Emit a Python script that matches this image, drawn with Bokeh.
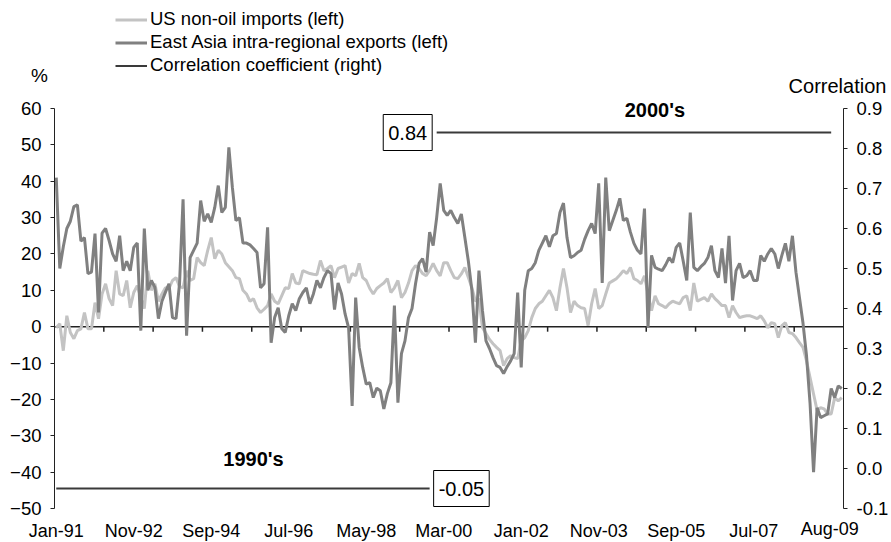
from bokeh.plotting import figure
from bokeh.models import (Range1d, LinearAxis, FixedTicker, Label, Legend,
                          LegendItem, PrintfTickFormatter)
from bokeh.embed import file_html
from bokeh.resources import INLINE

# ---------------- data (monthly, Jan-91 .. Aug-09, % y/y) ----------------
us_nonoil_imports = [
    -0.3, 0.8, -6.6, 3, -1.6, -3.3, -1.1, -0.6, 3.9, -0.6, -0.6, 6.6,          # 1991
    2.2, 9, 11.8, 7.7, 5.8, 15.4, 9, 8.5, 12.7, 5.2, 9.4, 11.3,                # 1992
    8, 5, 15.4, 10, 11.8, 7, 9, 10.7, 10.5, 12.7, 13.5, 11,                    # 1993
    10.7, 15.4, 12.7, 13.2, 19, 17.6, 16.8, 21, 24.5, 18.7, 21, 20,            # 1994
    17.6, 16.5, 15.4, 13.5, 13.2, 10, 9, 7, 7.7, 5.2, 3.9, 4.8,                # 1995
    5.8, 9, 7, 6.3, 8.5, 10.7, 10.5, 14.6, 12, 11.8, 15.4, 15,                 # 1996
    14.6, 14.4, 14.3, 18.2, 15.4, 16, 16.8, 13.5, 16, 16.4, 16.8, 12,          # 1997
    14.6, 14, 17.4, 13.5, 12.7, 10.5, 9, 10.5, 11.3, 12, 13.2, 9.4,            # 1998
    10.7, 12.7, 8, 9.4, 12, 15.4, 16.8, 16, 14.6, 14, 15.5, 17.4,              # 1999
    15.4, 14, 17.6, 17.6, 15.4, 13.5, 13.2, 14.5, 16.3, 13.5, 10.7, 7,         # 2000
    7.7, -0.3, -1.9, -3.5, -4.7, -5.7, -6.6, -10.7, -8.8, -8, -8.5, -8.8,      # 2001
    -3.9, -3, -1.1, 2.5, 5, 6.3, 7, 8.5, 10, 8, 4.4, 10.7,                     # 2002
    16, 10.7, 3.9, 7, 5.8, 5.2, 5, 0.3, 6.3, 10.5, 5, 5.8,                     # 2003
    9, 12, 12.6, 13.2, 14.2, 15.4, 14.6, 16.3, 13.2, 12.7, 11.8, 14,           # 2004
    9, 4.4, 8.5, 6.3, 5.8, 5.2, 6.3, 7, 6.6, 6.3, 8, 8.5,                      # 2005
    4.4, 12, 7, 7.5, 8, 7, 9, 7.7, 6.8, 5.8, 5.8, 2.5,                         # 2006
    5.8, 3.9, 2.5, 2.8, 3, 3, 2.6, 2.2, 3, 1.6, -0.3, 1.1,                     # 2007
    0.8, -3, 0.3, 1.1, -1.6, -1.9, -3, -4.4, -5.7, -9.4, -14, -18.5,           # 2008
    -23, -22.3, -22.6, -24, -24, -19.5, -20.4, -19.5,                          # 2009
]

east_asia_exports = [
    41, 16, 22, 27, 29, 33, 33.5, 23.5, 24.5, 14.6, 15, 25.6,                  # 1991
    3.9, 25.7, 27, 23.7, 20, 18, 25, 15.4, 18, 15.4, 21.8, 23,                 # 1992
    -1.1, 27, 10, 12.7, 10.8, 2.2, 7, 9.5, 11.8, 2.5, 2.2, 11.8,               # 1993
    35, -2.5, 19, 21, 23, 34.7, 29, 31, 28.7, 32.8, 38.8, 31.4,                # 1994
    32.8, 49.3, 38.3, 29.2, 30, 23, 23, 22.5, 21.5, 20.4, 10.7, 11.8,          # 1995
    27.3, -4.4, 2.5, 5.2, -0.5, -1.6, 3, 6.3, 4.4, 7.7, 9.4, 10.7,             # 1996
    6.3, 9, 12.7, 10.7, 13.5, 15.4, 14.6, 4.7, 12, 9, 3.5, -0.3,               # 1997
    -21.8, 8, -5.7, -11.2, -15.8, -15.4, -19.5, -16.9, -17.6, -22.6, -18.4, -15.4,  # 1998
    5.8, -20.9, -7.4, -3.9, 2.5, 5, 11.8, 17.4, 18.7, 15, 26, 22.3,            # 1999
    30, 39.4, 32, 30.6, 32, 30, 28.4, 31, 24.5, 18, 10, -4.4,                  # 2000
    15.4, 4.4, -3.9, -6, -8.5, -10.7, -11.2, -12.9, -11, -9.4, -7.4, 9.4,      # 2001
    -11.2, 10, 15.4, 16, 17.6, 21, 23, 25, 22, 25, 25.6, 31.4,                 # 2002
    34, 24.5, 19, 19.5, 20.4, 21, 24, 26.4, 28.4, 25.6, 39.4, 12,              # 2003
    41, 26.4, 29.2, 32, 35.3, 29.2, 29.8, 26, 22.9, 21, 20, 32.5,              # 2004
    -0.3, 19.6, 16.3, 15.8, 15.4, 17, 19, 17.6, 21.8, 23, 18, 12.7,            # 2005
    31.4, 16.3, 15.4, 16.5, 17.4, 19, 22.3, 15.4, 13.5, 21.5, 12, 25,          # 2006
    7.2, 15.4, 17.4, 13.5, 14, 15.4, 12.7, 12.7, 19.6, 18, 20, 21.5,           # 2007
    20, 16, 19.6, 22.9, 18, 25, 15, 8, 1, -8, -21, -40,                        # 2008
    -22.3, -25, -24.5, -24, -17, -19.5, -16.3, -17,                            # 2009
]

x_tick_labels = ["Jan-91", "Nov-92", "Sep-94", "Jul-96", "May-98", "Mar-00",
                 "Jan-02", "Nov-03", "Sep-05", "Jul-07"]
last_label = "Aug-09"

corr_period_names = ["1990's", "2000's"]
corr_values = [-0.05, 0.84]
corr_period_start = ["Jan-91", "Jan-00"]
corr_period_end = ["Nov-99", "May-09"]

left_ticks = [-50, -40, -30, -20, -10, 0, 10, 20, 30, 40, 50, 60]
right_ticks = [-0.1, 0.0, 0.1, 0.2, 0.3, 0.4, 0.5, 0.6, 0.7, 0.8, 0.9]
zero_line_tick_every = 14   # months between tick marks on the zero line

# ---------------- helpers ----------------
MON = ["Jan", "Feb", "Mar", "Apr", "May", "Jun", "Jul", "Aug", "Sep", "Oct", "Nov", "Dec"]


def month_index(lbl):
    m, y = lbl.split("-")
    yy = int(y)
    year = 2000 + yy if yy < 50 else 1900 + yy
    return (year - 1991) * 12 + MON.index(m)


n = len(us_nonoil_imports)
months = list(range(n))
FONT = "Liberation Sans"
TXT = "#000000"
AX = "#222222"

# canvas and where the axes sit inside it (pixels)
W, H = 891, 542
AX_LEFT, AX_RIGHT = 54, 843      # x pixel of left / right value axis
AX_TOP, AX_BOTTOM = 108, 508     # y pixel of top / bottom of value axes

x0, x1 = -0.5, n - 0.5
ux = (x1 - x0) / (AX_RIGHT - AX_LEFT)
yl0, yl1 = left_ticks[0], left_ticks[-1]
uy = (yl1 - yl0) / (AX_BOTTOM - AX_TOP)
yc0, yc1 = right_ticks[0], right_ticks[-1]
uc = (yc1 - yc0) / (AX_BOTTOM - AX_TOP)

p = figure(width=W, height=H, title=None,
           x_range=Range1d(x0 - AX_LEFT * ux, x1 + (W - AX_RIGHT) * ux),
           y_range=Range1d(yl0 - (H - AX_BOTTOM) * uy, yl1 + AX_TOP * uy),
           output_backend="svg", toolbar_location=None,
           min_border=0, min_border_left=0, min_border_right=0,
           min_border_top=0, min_border_bottom=0)
p.extra_y_ranges = {"corr": Range1d(yc0 - (H - AX_BOTTOM) * uc, yc1 + AX_TOP * uc)}
p.xgrid.visible = False
p.ygrid.visible = False
p.outline_line_color = None
p.background_fill_color = "white"
p.border_fill_color = "white"

# bottom axis: date labels only
xa = p.xaxis[0]
label_pos = [month_index(l) for l in x_tick_labels]
xa.fixed_location = yl0
xa.ticker = FixedTicker(ticks=label_pos)
xa.major_label_overrides = {pos: lbl for pos, lbl in zip(label_pos, x_tick_labels)}
xa.axis_line_color = None
xa.major_tick_line_color = None
xa.minor_tick_line_color = None
xa.major_label_standoff = 6
xa.major_label_text_font = FONT
xa.major_label_text_font_size = "18px"
xa.major_label_text_color = TXT

# last date label sits a little higher and to the left, as in the original
p.add_layout(Label(x=month_index(last_label), y=yl0, text=last_label, text_align="center",
                   text_baseline="middle", x_offset=-12, y_offset=-20,
                   text_font=FONT, text_font_size="18px", text_color=TXT))

# left axis (%)
ya = p.yaxis[0]
ya.fixed_location = x0
ya.bounds = (yl0, yl1)
ya.ticker = FixedTicker(ticks=left_ticks)
ya.axis_line_color = AX
ya.major_tick_line_color = AX
ya.major_tick_out = 4
ya.major_tick_in = 0
ya.minor_tick_line_color = None
ya.major_label_standoff = 9
ya.major_label_text_font = FONT
ya.major_label_text_font_size = "18.5px"
ya.major_label_text_color = TXT

# right axis (correlation)
ra = LinearAxis(y_range_name="corr", ticker=FixedTicker(ticks=right_ticks),
                formatter=PrintfTickFormatter(format="%.1f"),
                fixed_location=x1, bounds=(yc0, yc1))
ra.axis_line_color = AX
ra.major_tick_line_color = AX
ra.major_tick_out = 4
ra.major_tick_in = 0
ra.minor_tick_line_color = None
ra.major_label_standoff = 9
ra.major_label_text_font = FONT
ra.major_label_text_font_size = "18.5px"
ra.major_label_text_color = TXT
p.add_layout(ra, "right")

# zero line with its tick marks (5 px long, pointing down)
p.segment(x0=[x0], x1=[x1], y0=[0], y1=[0], line_color=AX, line_width=1.5)
tick_x = [x0 + zero_line_tick_every * k for k in range(1, n // zero_line_tick_every + 1)
          if x0 + zero_line_tick_every * k < x1]
p.segment(x0=tick_x, x1=tick_x, y0=[0] * len(tick_x), y1=[-5 * uy] * len(tick_x),
          line_color=AX, line_width=1.5)

# series
r_us = p.line(months, us_nonoil_imports, line_color="#c3c3c3", line_width=3)
r_ea = p.line(months, east_asia_exports, line_color="#808080", line_width=3)

cs = [month_index(s) for s in corr_period_start]
ce = [month_index(s) for s in corr_period_end]
r_corr = p.segment(x0=cs, x1=ce, y0=corr_values, y1=corr_values, y_range_name="corr",
                   line_color="#3a3a3a", line_width=2)

# boxed values
p.add_layout(Label(x=cs[1], y=corr_values[1], y_range_name="corr", text=f"{corr_values[1]:.2f}",
                   text_align="right", text_baseline="middle", x_offset=-4.5,
                   text_font=FONT, text_font_size="20px", text_color=TXT,
                   border_line_color="#000000", border_line_width=1,
                   background_fill_color="white", padding=(5, 11)))
p.add_layout(Label(x=ce[0], y=corr_values[0], y_range_name="corr", text=f"{corr_values[0]:.2f}",
                   text_align="left", text_baseline="middle", x_offset=4,
                   text_font=FONT, text_font_size="20px", text_color=TXT,
                   border_line_color="#000000", border_line_width=1,
                   background_fill_color="white", padding=(5, 11)))

# period names
p.add_layout(Label(x=(cs[0] + ce[0]) / 2, y=corr_values[0], y_range_name="corr",
                   text=corr_period_names[0], text_align="center", text_baseline="middle",
                   x_offset=10.5, y_offset=30, text_font=FONT, text_font_size="20px",
                   text_font_style="bold", text_color=TXT))
p.add_layout(Label(x=(cs[1] + ce[1]) / 2, y=corr_values[1], y_range_name="corr",
                   text=corr_period_names[1], text_align="center", text_baseline="middle",
                   x_offset=21, y_offset=23, text_font=FONT, text_font_size="20px",
                   text_font_style="bold", text_color=TXT))

# axis titles
p.add_layout(Label(x=x0, y=yl1, text="%", text_align="center", text_baseline="middle",
                   x_offset=-15, y_offset=33, text_font=FONT, text_font_size="19px",
                   text_color=TXT))
p.add_layout(Label(x=x1, y=yc1, y_range_name="corr", text="Correlation",
                   text_align="center", text_baseline="middle", x_offset=-6, y_offset=23,
                   text_font=FONT, text_font_size="20px", text_color=TXT))

legend = Legend(items=[
    LegendItem(label="US non-oil imports (left)", renderers=[r_us]),
    LegendItem(label="East Asia intra-regional exports (left)", renderers=[r_ea]),
    LegendItem(label="Correlation coefficient (right)", renderers=[r_corr]),
], location=(115, 466), orientation="vertical",
    label_text_font=FONT, label_text_font_size="18.5px", label_text_color=TXT,
    glyph_width=32, glyph_height=21, label_height=21, label_standoff=3,
    spacing=1, padding=0, margin=0, border_line_color=None, background_fill_alpha=0)
p.add_layout(legend)

open("out.html", "w").write(file_html(p, INLINE))
